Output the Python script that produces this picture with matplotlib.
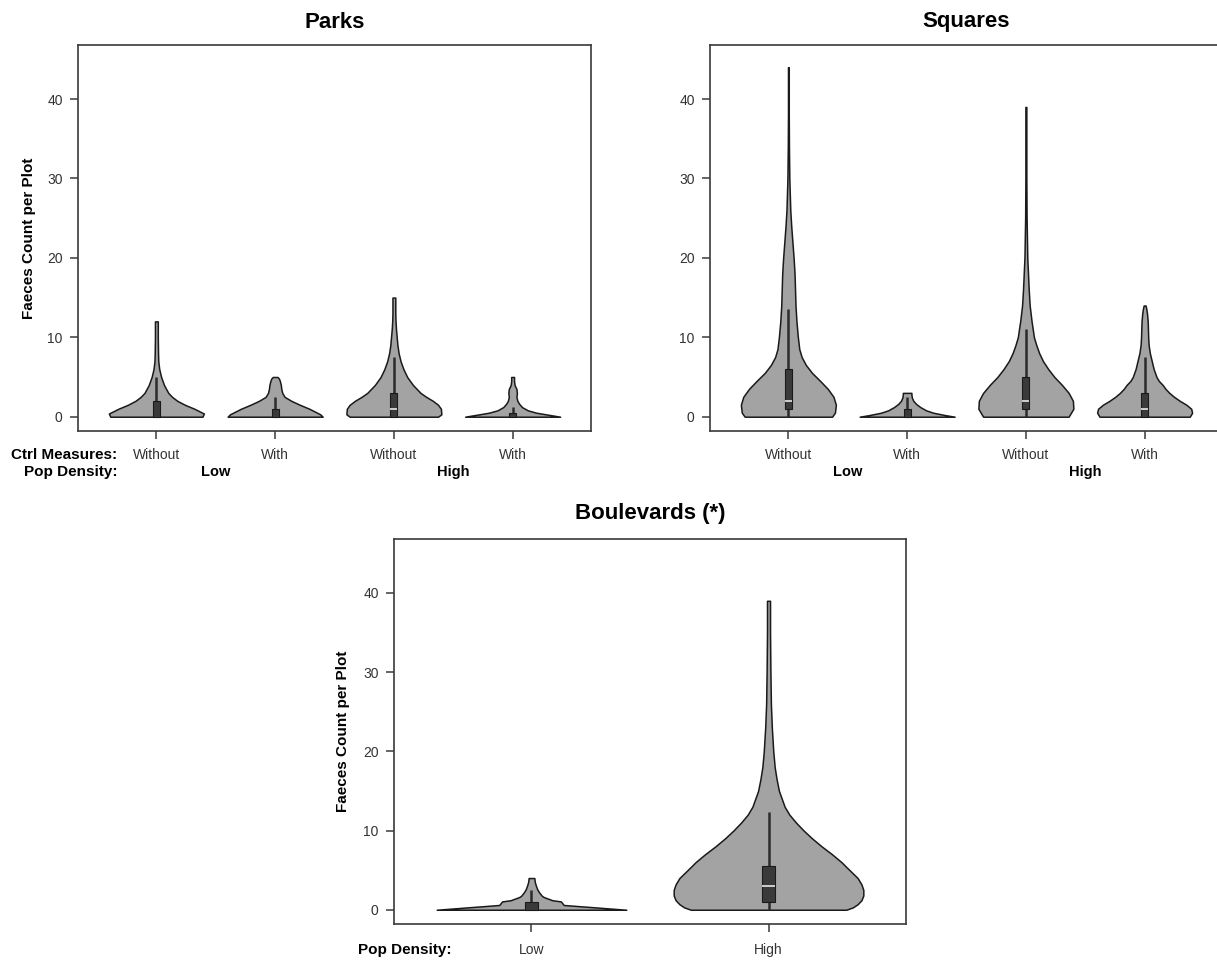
import matplotlib
matplotlib.use('Agg')
from matplotlib import pyplot as plt
from matplotlib.patches import Rectangle
from matplotlib.transforms import blended_transform_factory
import numpy as np

plt.rcParams['font.family'] = ['Liberation Sans', 'DejaVu Sans']

# ---- data ----
# violin outlines: value levels and relative half-width (1 = widest)
ctrl_labels = ['Without', 'With', 'Without', 'With']
density_labels = ['Low', 'High']

parks_y = [
    [0, 0.4, 1, 1.5, 2, 2.5, 3, 4, 5, 6, 7, 8, 10, 12],
    [0, 0.3, 1, 1.5, 2, 2.5, 3, 3.5, 4, 4.5, 4.8, 5],
    [0, 0.3, 1, 1.5, 2, 2.5, 3, 4, 5, 6, 7, 8, 9, 10, 11, 12, 13, 14, 15],
    [0, 0.2, 0.5, 0.8, 1.2, 1.6, 2, 2.5, 3, 3.5, 4, 4.5, 5],
]
parks_w = [
    [0.97, 1.0, 0.8, 0.6, 0.44, 0.33, 0.25, 0.16, 0.1, 0.06, 0.04, 0.035, 0.03, 0.03],
    [1.0, 0.95, 0.72, 0.52, 0.34, 0.2, 0.15, 0.13, 0.12, 0.1, 0.08, 0.05],
    [0.93, 1.0, 0.99, 0.93, 0.82, 0.68, 0.56, 0.4, 0.28, 0.2, 0.14, 0.1, 0.075,
     0.06, 0.045, 0.035, 0.03, 0.03, 0.03],
    [1.0, 0.8, 0.5, 0.32, 0.2, 0.14, 0.1, 0.08, 0.09, 0.08, 0.04, 0.03, 0.03],
]
parks_q1 = [0, 0, 0, 0]
parks_med = [0, 0, 1, 0]
parks_q3 = [2, 1, 3, 0.5]
parks_wlo = [0, 0, 0, 0]
parks_whi = [5, 2.5, 7.5, 1.2]

squares_y = [
    [0, 0.5, 1.5, 2.5, 3.5, 4.5, 5.5, 6.5, 7.5, 8.5, 10, 12, 14, 16, 18, 20, 22,
     24, 26, 28, 30, 34, 38, 44],
    [0, 0.2, 0.5, 0.8, 1.2, 1.6, 2, 2.4, 2.8, 3],
    [0, 1, 2, 3, 4, 5, 6, 7, 8, 9, 10, 12, 14, 16, 18, 20, 25, 30, 39],
    [0, 0.5, 1, 1.5, 2, 2.5, 3, 3.5, 4, 4.5, 5, 6, 7, 8, 9, 10, 11, 12, 13, 13.6, 14],
]
squares_w = [
    [0.92, 0.98, 1.0, 0.95, 0.83, 0.67, 0.5, 0.37, 0.28, 0.23, 0.2, 0.17, 0.15,
     0.14, 0.13, 0.11, 0.085, 0.06, 0.04, 0.03, 0.02, 0.012, 0.008, 0.008],
    [1.0, 0.8, 0.55, 0.4, 0.28, 0.19, 0.13, 0.1, 0.09, 0.09],
    [0.9, 1.0, 0.99, 0.9, 0.76, 0.6, 0.47, 0.36, 0.28, 0.22, 0.17, 0.12, 0.08,
     0.06, 0.045, 0.03, 0.015, 0.01, 0.01],
    [0.95, 1.0, 0.98, 0.88, 0.74, 0.62, 0.52, 0.44, 0.38, 0.3, 0.25, 0.19, 0.15,
     0.11, 0.085, 0.075, 0.07, 0.065, 0.05, 0.035, 0.02],
]
squares_q1 = [1, 0, 1, 0]
squares_med = [2, 0, 2, 1]
squares_q3 = [6, 1, 5, 3]
squares_wlo = [0, 0, 0, 0]
squares_whi = [13.5, 2.5, 11, 7.5]

blvd_y = [
    [0, 0.6, 1.05, 1.2, 1.6, 1.75, 2.2, 2.6, 3.1, 3.5, 4.0],
    [0, 0.3, 0.7, 1.2, 1.8, 2.5, 3.2, 4, 4.7, 5.4, 6, 7, 8, 9, 10, 11, 12, 13,
     14, 15, 16.5, 18, 20, 23, 26, 30, 35, 39],
]
blvd_w = [
    [1.0, 0.34, 0.31, 0.22, 0.13, 0.11, 0.08, 0.06, 0.045, 0.035, 0.03],
    [0.82, 0.89, 0.94, 0.98, 1.0, 1.0, 0.98, 0.94, 0.88, 0.82, 0.77, 0.67, 0.56,
     0.46, 0.37, 0.29, 0.22, 0.17, 0.14, 0.11, 0.085, 0.065, 0.05, 0.035, 0.025,
     0.02, 0.016, 0.016],
]
blvd_q1 = [0, 1]
blvd_med = [0, 3]
blvd_q3 = [1, 5.5]
blvd_wlo = [0, 0]
blvd_whi = [2.5, 12.3]

yticks = [0, 10, 20, 30, 40]

W, H = 1217, 960
fig = plt.figure(figsize=(W / 100, H / 100), dpi=100)


def px_axes(left, top, right, bottom):
    return fig.add_axes([left / W, 1 - bottom / H, (right - left) / W, (bottom - top) / H])


def draw_panel(ax, ys, ws, q1, med, q3, wlo, whi, bw):
    n = len(ys)
    pos = np.arange(1, n + 1)
    for i in range(n):
        y = np.array(ys[i], dtype=float)
        half = np.array(ws[i]) * 0.4
        ax.fill_betweenx(y, pos[i] - half, pos[i] + half, facecolor='#a3a3a3',
                         edgecolor='#1a1a1a', linewidth=1.1, zorder=2)
        ax.vlines(pos[i], wlo[i], whi[i], color='#2b2b2b', linewidth=1.8, zorder=3)
        ax.add_patch(Rectangle((pos[i] - bw, q1[i]), 2 * bw, q3[i] - q1[i],
                               facecolor='#3a3a3a', edgecolor='#1a1a1a',
                               linewidth=0.8, zorder=4))
        if med[i] > q1[i]:
            ax.hlines(med[i], pos[i] - bw, pos[i] + bw, color='#cfcfcf',
                      linewidth=1.4, zorder=5)
    ax.set_xlim(0.5 - 0.04 * n, n + 0.5 + 0.04 * n)
    ax.set_ylim(-1.8, 46.8)
    ax.set_yticks(yticks)
    ax.set_xticks(pos)
    ax.set_xticklabels([])
    for s in ax.spines.values():
        s.set_color('#3a3a3a')
        s.set_linewidth(1.2)
    ax.tick_params(direction='out', length=6, width=1.1, color='#3a3a3a',
                   labelsize=10, labelcolor='#333333', pad=5)
    return pos


def bottom_text(ax, x, ypix, s, **kw):
    tr = blended_transform_factory(ax.transData, fig.transFigure)
    ax.text(x, 1 - ypix / H, s, transform=tr, va='center', clip_on=False, **kw)


# Parks
ax1 = px_axes(78, 45, 591, 431)
pos = draw_panel(ax1, parks_y, parks_w, parks_q1, parks_med, parks_q3,
                 parks_wlo, parks_whi, 0.03)
for p, lab in zip(pos, ctrl_labels):
    bottom_text(ax1, p, 455, lab, ha='center', fontsize=10, color='#333333')
bottom_text(ax1, 1.5, 472, density_labels[0], ha='center', fontsize=10.5, fontweight='bold')
bottom_text(ax1, 3.5, 472, density_labels[1], ha='center', fontsize=10.5, fontweight='bold')
fig.text(117 / W, 1 - 455 / H, 'Ctrl Measures:', ha='right', va='center',
         fontsize=11, fontweight='bold')
fig.text(117 / W, 1 - 472 / H, 'Pop Density:', ha='right', va='center',
         fontsize=11, fontweight='bold')
fig.text(29 / W, 1 - 238 / H, 'Faeces Count per Plot', rotation=90, ha='center',
         va='center', fontsize=11, fontweight='bold')
fig.text(334.5 / W, 1 - 22 / H, 'Parks', ha='center', va='center',
         fontsize=16, fontweight='bold')

# Squares
ax2 = px_axes(710, 45, 1223, 431)
pos = draw_panel(ax2, squares_y, squares_w, squares_q1, squares_med, squares_q3,
                 squares_wlo, squares_whi, 0.03)
for p, lab in zip(pos, ctrl_labels):
    bottom_text(ax2, p, 455, lab, ha='center', fontsize=10, color='#333333')
bottom_text(ax2, 1.5, 472, density_labels[0], ha='center', fontsize=10.5, fontweight='bold')
bottom_text(ax2, 3.5, 472, density_labels[1], ha='center', fontsize=10.5, fontweight='bold')
fig.text(966 / W, 1 - 22 / H, 'Squares', ha='center', va='center',
         fontsize=16, fontweight='bold')

# Boulevards
ax3 = px_axes(394, 539, 906, 924)
pos = draw_panel(ax3, blvd_y, blvd_w, blvd_q1, blvd_med, blvd_q3,
                 blvd_wlo, blvd_whi, 0.026)
for p, lab in zip(pos, density_labels):
    bottom_text(ax3, p, 950, lab, ha='center', fontsize=10, color='#333333')
fig.text(452 / W, 1 - 950 / H, 'Pop Density:', ha='right', va='center',
         fontsize=11, fontweight='bold')
fig.text(343 / W, 1 - 731 / H, 'Faeces Count per Plot', rotation=90, ha='center',
         va='center', fontsize=11, fontweight='bold')
fig.text(650 / W, 1 - 513 / H, 'Boulevards (*)', ha='center', va='center',
         fontsize=16, fontweight='bold')

fig.savefig('out.png', dpi=100, facecolor='white')
